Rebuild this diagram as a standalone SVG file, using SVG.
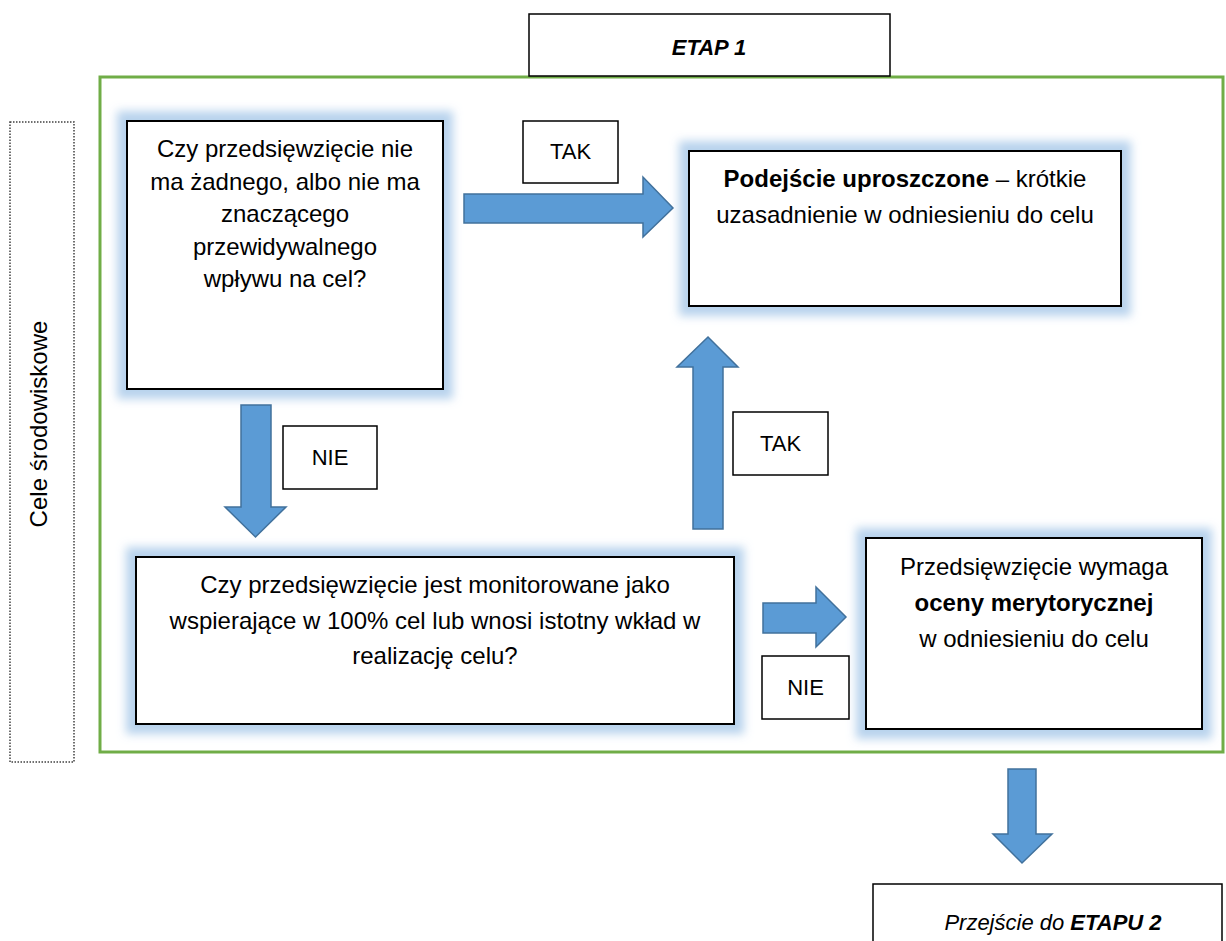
<svg xmlns="http://www.w3.org/2000/svg" width="1226" height="941" viewBox="0 0 1226 941">
<style>
  text { font-family: "Liberation Sans", Arial, sans-serif; fill: #000; }
  .body { font-size: 24px; text-anchor: middle; }
  .lbl { font-size: 22px; text-anchor: middle; }
  .b { font-weight: bold; }
  .node { fill: #fff; stroke: #000; stroke-width: 2; }
  .tag { fill: #fff; stroke: #000; stroke-width: 1.5; }
  .arrow { fill: #5B9BD5; stroke: #41719C; stroke-width: 1.5; stroke-linejoin: miter; }
</style>
<defs>
  <filter id="glow" x="-15%" y="-25%" width="130%" height="150%">
    <feMorphology in="SourceAlpha" operator="dilate" radius="9" result="d"/>
    <feGaussianBlur in="d" stdDeviation="5" result="bl"/>
    <feFlood flood-color="#B4D0EC" flood-opacity="0.95"/>
    <feComposite in2="bl" operator="in" result="g"/>
    <feMerge><feMergeNode in="g"/><feMergeNode in="SourceGraphic"/></feMerge>
  </filter>
</defs>
<rect width="1226" height="941" fill="#fff"/>

<g id="frame">
  <rect x="100" y="77" width="1123" height="675" fill="none" stroke="#70AD47" stroke-width="3"/>
</g>

<g id="etap1">
  <rect class="tag" x="529" y="14" width="361" height="62"/>
  <text class="lbl b" x="709" y="55" font-style="italic">ETAP 1</text>
</g>

<g id="side-label">
  <rect x="10" y="122" width="64" height="640" fill="none" stroke="#404040" stroke-width="1.5" stroke-dasharray="1.5 1.5"/>
  <text class="body" transform="translate(47,424) rotate(-90)">Cele środowiskowe</text>
</g>

<g id="q1">
  <rect class="node" x="127" y="121" width="316" height="268" filter="url(#glow)"/>
  <text class="body" x="285" y="157">Czy przedsięwzięcie nie</text>
  <text class="body" x="285" y="189.5">ma żadnego, albo nie ma</text>
  <text class="body" x="285" y="222">znaczącego</text>
  <text class="body" x="285" y="254.5">przewidywalnego</text>
  <text class="body" x="285" y="287">wpływu na cel?</text>
</g>

<g id="simplified">
  <rect class="node" x="689" y="151" width="432" height="155" filter="url(#glow)"/>
  <text class="body" x="905" y="187"><tspan class="b">Podejście uproszczone</tspan> – krótkie</text>
  <text class="body" x="905" y="223">uzasadnienie w odniesieniu do celu</text>
</g>

<g id="q2">
  <rect class="node" x="136" y="557" width="598" height="167" filter="url(#glow)"/>
  <text class="body" x="435" y="593">Czy przedsięwzięcie jest monitorowane jako</text>
  <text class="body" x="435" y="628.5">wspierające w 100% cel lub wnosi istotny wkład w</text>
  <text class="body" x="435" y="664">realizację celu?</text>
</g>

<g id="merit">
  <rect class="node" x="866" y="538" width="336" height="191" filter="url(#glow)"/>
  <text class="body" x="1034" y="575">Przedsięwzięcie wymaga</text>
  <text class="body b" x="1034" y="611">oceny merytorycznej</text>
  <text class="body" x="1034" y="647">w odniesieniu do celu</text>
</g>

<g id="etap2">
  <rect class="tag" x="873" y="884" width="349" height="80"/>
  <text class="lbl" x="1053" y="930" font-style="italic">Przejście do <tspan class="b">ETAPU 2</tspan></text>
</g>

<g id="connectors">
  <path class="arrow" d="M464,194 H643 V177 L673,208 L643,237 V223 H464 Z"/>
  <path class="arrow" d="M241,405 H271 V507 H286 L255.5,537 L225,507 H241 Z"/>
  <path class="arrow" d="M693,529 V367 H677 L708,337 L738,367 H723 V529 Z"/>
  <path class="arrow" d="M763,603 H816 V587 L846,617 L816,647 V633 H763 Z"/>
  <path class="arrow" d="M1008,769 H1036 V834 H1052 L1022,863 L993,834 H1008 Z"/>
  <g id="tak1">
    <rect class="tag" x="523" y="121" width="95" height="62"/>
    <text class="lbl" x="570.5" y="159">TAK</text>
  </g>
  <g id="nie1">
    <rect class="tag" x="283" y="426" width="94" height="63"/>
    <text class="lbl" x="330" y="465">NIE</text>
  </g>
  <g id="tak2">
    <rect class="tag" x="733" y="412" width="95" height="63"/>
    <text class="lbl" x="780.5" y="451">TAK</text>
  </g>
  <g id="nie2">
    <rect class="tag" x="762" y="656" width="87" height="63"/>
    <text class="lbl" x="805.5" y="695">NIE</text>
  </g>
</g>
</svg>
